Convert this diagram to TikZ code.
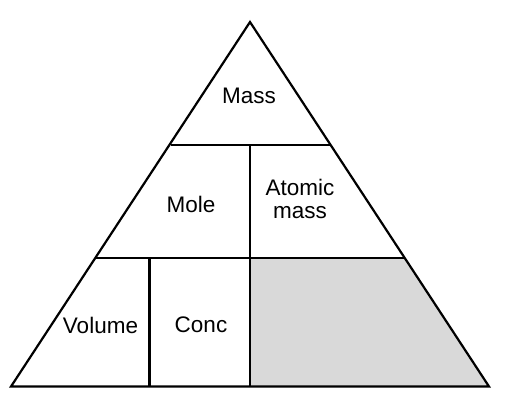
\documentclass[tikz,border=0pt]{standalone}
\usepackage{fontspec}
\setmainfont{Liberation Sans}
\begin{document}
\begin{tikzpicture}[x=1pt,y=-1pt,
  edge/.style={line width=2.2pt,line join=miter},
  lbl/.style={font=\fontsize{22.5}{23.5}\selectfont,align=center,inner sep=0pt}]
\useasboundingbox (0,0) rectangle (512,407);
\coordinate (A) at (250,22);
\coordinate (L) at (11,386.5);
\coordinate (R) at (489,386.5);
\coordinate (m1l) at (170.5,145);
\coordinate (m1r) at (329.5,145);
\coordinate (m2l) at (95,258);
\coordinate (m2r) at (405,258);
\coordinate (v1t) at (250,145);
\coordinate (v1b) at (250,386.5);
\coordinate (v2t) at (149.5,258);
\coordinate (v2b) at (149.5,386.5);
\coordinate (g1) at (250,258);
\fill[gray!30] (g1) -- (m2r) -- (R) -- (v1b) -- cycle;
\draw[edge] (A) -- (R) -- (L) -- cycle;
\draw[edge] (m1l) -- (m1r);
\draw[edge] (m2l) -- (m2r);
\draw[edge] (v1t) -- (v1b);
\draw[edge] (v2t) -- (v2b);
\node[lbl] (mass) at (249,96) {Mass};
\node[lbl] (mole) at (191,204) {Mole};
\node[lbl] (atomic) at (300,199) {Atomic\\mass};
\node[lbl] (volume) at (100.5,325) {Volume};
\node[lbl] (conc) at (201,325) {Conc};
\end{tikzpicture}
\end{document}
